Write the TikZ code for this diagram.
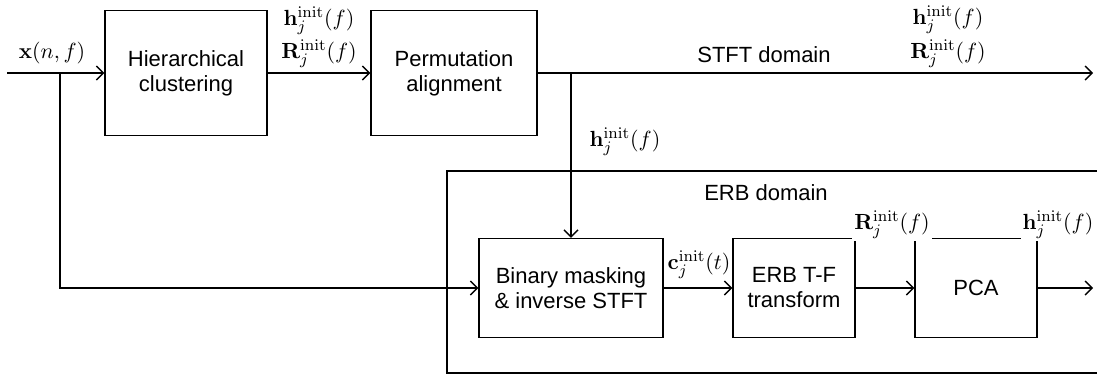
\documentclass[tikz,border=0pt]{standalone}
\usepackage[no-math]{fontspec}
\setmainfont{Liberation Sans}
\usepackage{tikz}
\usetikzlibrary{arrows, arrows.meta, calc}

\tikzset{
  blk/.style={draw, line width=0.7pt, inner sep=0pt, align=center, font=\fontsize{11}{12.5}\selectfont},
  lbl/.style={inner sep=1pt, font=\fontsize{11}{13}\selectfont},
  wlbl/.style={lbl, fill=white},
  sig/.style={line width=0.7pt, ->}
}

\begin{document}
\begin{tikzpicture}[x=0.5pt, y=-0.5pt, >={Straight Barb[length=3.5pt, width=7pt]}]
\useasboundingbox (0,0) rectangle (1097,376);

 %%Paramaters
%% line heights, in px
\def\topLine{73}
\def\lowLine{288}

%% ***Blocks : STFT domain***
\node[blk, minimum width=81pt, minimum height=62.5pt] (hier) at (186,\topLine) {Hierarchical\\clustering};
\node[blk, minimum width=83pt, minimum height=62.5pt] (perm) at (454,\topLine) {Permutation\\alignment};

%% ***Blocks : ERB domain***
\node[blk, minimum width=92pt, minimum height=49.5pt] (bin) at (571,\lowLine) {Binary masking\\\& inverse STFT};
\node[blk, minimum width=61pt, minimum height=49.5pt] (erbtf) at (794,\lowLine) {ERB T-F\\transform};
\node[blk, minimum width=61pt, minimum height=49.5pt] (pca) at (976,\lowLine) {PCA};

% ERB frame, open on the right
\draw[line width=0.7pt] (1097,171) -- (447,171) -- (447,373) -- (1097,373);

%% free ends and splits
\coordinate (xin) at (7,\topLine);
\coordinate (split1) at (60,\topLine);
\coordinate (split2) at (571,\topLine);
\coordinate (stftout) at (1093,\topLine);
\coordinate (pcaout) at (1093,\lowLine);

%% connectors
\draw[sig] (xin) -- (hier.west);
\draw[sig] (hier.east) -- (perm.west);
\draw[sig] (perm.east) -- (stftout);
\draw[sig] (split1) |- (bin.west);
\draw[sig] (split2) -- (bin.north);
\draw[sig] (bin.east) -- (erbtf.west);
\draw[sig] (erbtf.east) -- (pca.west);
\draw[sig] (pca.east) -- (pcaout);

%% labels
\node[lbl] (lblx) at (52,53) {$\mathbf{x}(n,f)$};
\node[lbl] (lblh1) at (319,21) {$\mathbf{h}_j^{\mathrm{init}}(f)$};
\node[lbl] (lblR1) at (319,54) {$\mathbf{R}_j^{\mathrm{init}}(f)$};
\node[font=\fontsize{11}{13}\selectfont] (stft) at (764,55) {STFT domain};
\node[lbl] (lblh2) at (948,20) {$\mathbf{h}_j^{\mathrm{init}}(f)$};
\node[lbl] (lblR2) at (948,54) {$\mathbf{R}_j^{\mathrm{init}}(f)$};
\node[lbl] (lblh3) at (625,142) {$\mathbf{h}_j^{\mathrm{init}}(f)$};
\node[font=\fontsize{11}{13}\selectfont] (erb) at (766,193) {ERB domain};
\node[lbl] (lblc) at (699,265) {$\mathbf{c}_j^{\mathrm{init}}(t)$};
\node[wlbl] (lblR3) at (892,225) {$\mathbf{R}_j^{\mathrm{init}}(f)$};
\node[wlbl] (lblh4) at (1058,225) {$\mathbf{h}_j^{\mathrm{init}}(f)$};

\end{tikzpicture}
\end{document}
